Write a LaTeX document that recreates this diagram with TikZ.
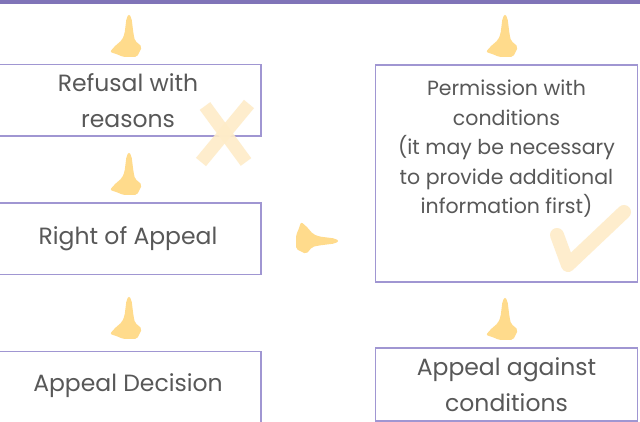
\documentclass[tikz,border=0pt]{standalone}
\usepackage{fontspec}
\setmainfont{Poppins}
\definecolor{barc}{RGB}{128,116,184}
\definecolor{boxc}{RGB}{160,150,210}
\definecolor{txtc}{RGB}{88,88,88}
\definecolor{arrc}{RGB}{255,219,140}
\definecolor{markc}{RGB}{254,236,200}
\tikzset{
  boxframe/.style={draw=boxc, line width=1.5pt, inner sep=0pt, outer sep=0pt},
  lbl/.style={text=txtc, align=center, font=\fontsize{23.5}{36}\selectfont},
  lblsmall/.style={text=txtc, align=center, font=\fontsize{20.5}{29.5}\selectfont},
  markstroke/.style={draw=markc, opacity=0.9, line cap=round, line join=round},
  blobarrow/.pic={
    \fill[arrc, rounded corners=2pt] (0,0) -- (2.5,-4) -- (3.5,-12) -- (4.5,-20) -- (6,-27)
      -- (10,-30) -- (13,-33) -- (11,-37) -- (8,-43) -- (2,-43) -- (-6,-43) -- (-10,-41)
      -- (-19,-38) -- (-15,-33) -- (-7,-26) -- (-4.5,-20) -- (-3.5,-12) -- (-2.5,-4) -- cycle;
  }
}
\begin{document}
\begin{tikzpicture}[x=1pt,y=1pt]
\clip (0,0) rectangle (640,422);
\fill[white] (0,0) rectangle (640,422);
\fill[barc] (0,417.5) rectangle (640,422);
% boxes
\node[boxframe, lbl, minimum width=266pt, minimum height=71.5pt] (refusal) at (128,321.75) {Refusal with\\reasons};
\node[boxframe, lbl, minimum width=266pt, minimum height=71.3pt] (appeal) at (128,183.35) {Right of Appeal};
\node[boxframe, minimum width=266pt, minimum height=78.5pt] (decisionbox) at (128,31.25) {};
\node[boxframe, minimum width=262.4pt, minimum height=217.2pt] (permbox) at (506.5,248.6) {};
\node[boxframe, lbl, minimum width=262.4pt, minimum height=73pt] (against) at (506.5,37.5) {Appeal against\\conditions};
% texts
\node[lbl] (decision) at (128,36) {Appeal Decision};
\node[lblsmall] (perm) at (506.5,273) {Permission with\\conditions\\(it may be necessary\\to provide additional\\information first)};
% arrows
\pic at (129,408) {blobarrow};
\pic at (129,270) {blobarrow};
\pic at (129,126) {blobarrow};
\pic at (505,408) {blobarrow};
\pic at (505,125) {blobarrow};
\pic[rotate=-90] at (339,181) {blobarrow};
% cross and tick
\draw[markstroke, line width=13pt, line cap=butt] (205,316) -- (246,260);
\draw[markstroke, line width=13pt, line cap=butt] (249,318) -- (201,260);
\draw[markstroke, line width=14pt] (557,187) -- (568,157) -- (624,210);
\end{tikzpicture}
\end{document}
